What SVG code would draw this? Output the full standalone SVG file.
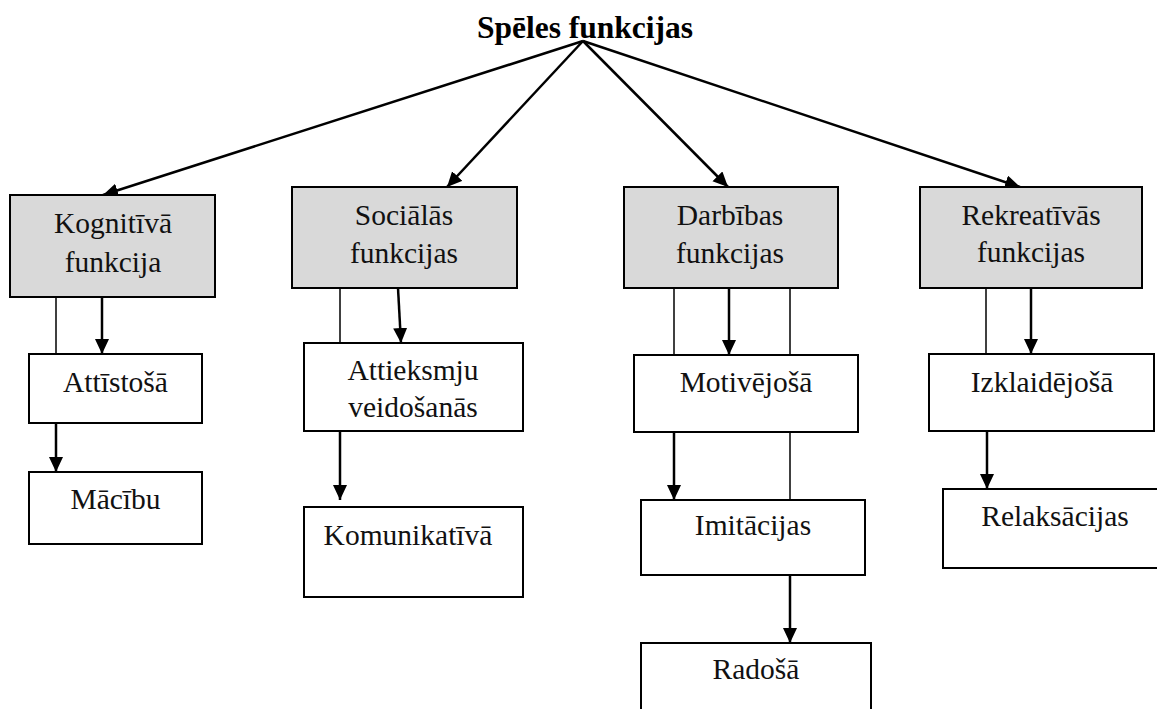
<svg xmlns="http://www.w3.org/2000/svg" width="1157" height="709" viewBox="0 0 1157 709">
<style>
.box{fill:#fff;stroke:#000;stroke-width:2}
.gray{fill:#d9d9d9;stroke:#000;stroke-width:2}
.t{font-family:"Liberation Serif","Times New Roman",serif;font-size:29.5px;fill:#111;text-anchor:middle}
.title{font-family:"Liberation Serif","Times New Roman",serif;font-size:31.5px;font-weight:bold;fill:#000;text-anchor:middle}
.arr{stroke:#000;stroke-width:2.5;fill:none;marker-end:url(#ah)}
.thin{stroke:#000;stroke-width:1.5;fill:none}
</style>
<defs>
<marker id="ah" markerUnits="userSpaceOnUse" markerWidth="16" markerHeight="15" refX="15" refY="7" orient="auto" viewBox="0 0 16 15">
<path d="M0,0 L15,7 L0,14 z" fill="#000"/>
</marker>
</defs>
<g id="title"><text class="title" x="585" y="38">Spēles funkcijas</text></g>
<g id="connectors">
<line class="arr" x1="583" y1="41" x2="103" y2="195"/>
<line class="arr" x1="583" y1="41" x2="447" y2="187"/>
<line class="arr" x1="583" y1="41" x2="728" y2="187"/>
<line class="arr" x1="583" y1="41" x2="1020" y2="187"/>
<line class="thin" x1="56" y1="297" x2="56" y2="354"/>
<line class="arr" x1="102" y1="297" x2="102" y2="354"/>
<line class="arr" x1="56" y1="423" x2="56" y2="472"/>
<line class="thin" x1="340" y1="288" x2="340" y2="343"/>
<line class="arr" x1="398" y1="288" x2="401" y2="343"/>
<line class="arr" x1="340" y1="431" x2="340" y2="500"/>
<line class="thin" x1="674" y1="288" x2="674" y2="355"/>
<line class="arr" x1="729" y1="288" x2="729" y2="355"/>
<line class="thin" x1="790" y1="288" x2="790" y2="355"/>
<line class="arr" x1="674" y1="432" x2="674" y2="500"/>
<line class="thin" x1="790" y1="432" x2="790" y2="500"/>
<line class="arr" x1="790" y1="575" x2="790" y2="643"/>
<line class="thin" x1="986" y1="288" x2="986" y2="354"/>
<line class="arr" x1="1031" y1="288" x2="1031" y2="354"/>
<line class="arr" x1="987" y1="431" x2="987" y2="489"/>
</g>
<g id="kognitiva"><rect class="gray" x="10" y="195" width="205" height="102"/><text class="t" x="113" y="233">Kognitīvā</text><text class="t" x="113" y="272">funkcija</text></g>
<g id="attistosa"><rect class="box" x="29" y="354" width="173" height="69"/><text class="t" x="115.5" y="392">Attīstošā</text></g>
<g id="macibu"><rect class="box" x="29" y="472" width="173" height="72"/><text class="t" x="115.5" y="509">Mācību</text></g>
<g id="socialas"><rect class="gray" x="292" y="187" width="225" height="101"/><text class="t" x="404" y="225">Sociālās</text><text class="t" x="404" y="263">funkcijas</text></g>
<g id="attieksmju"><rect class="box" x="304" y="343" width="219" height="88"/><text class="t" x="413" y="380">Attieksmju</text><text class="t" x="413" y="417">veidošanās</text></g>
<g id="komunikativa"><rect class="box" x="304" y="507" width="219" height="90"/><text class="t" x="408" y="545">Komunikatīvā</text></g>
<g id="darbibas"><rect class="gray" x="624" y="187" width="214" height="101"/><text class="t" x="730" y="225">Darbības</text><text class="t" x="730" y="263">funkcijas</text></g>
<g id="motivejosa"><rect class="box" x="634" y="355" width="224" height="77"/><text class="t" x="746" y="392">Motivējošā</text></g>
<g id="imitacijas"><rect class="box" x="641" y="500" width="224" height="75"/><text class="t" x="753" y="535">Imitācijas</text></g>
<g id="radosa"><rect class="box" x="641" y="643" width="230" height="72"/><text class="t" x="756" y="679">Radošā</text></g>
<g id="rekreativas"><rect class="gray" x="920" y="187" width="222" height="101"/><text class="t" x="1031" y="225">Rekreatīvās</text><text class="t" x="1031" y="262">funkcijas</text></g>
<g id="izklaidejosa"><rect class="box" x="929" y="354" width="225" height="77"/><text class="t" x="1042" y="392">Izklaidējošā</text></g>
<g id="relaksacijas"><rect class="box" x="943" y="489" width="220" height="79"/><text class="t" x="1055" y="526">Relaksācijas</text></g>
</svg>
